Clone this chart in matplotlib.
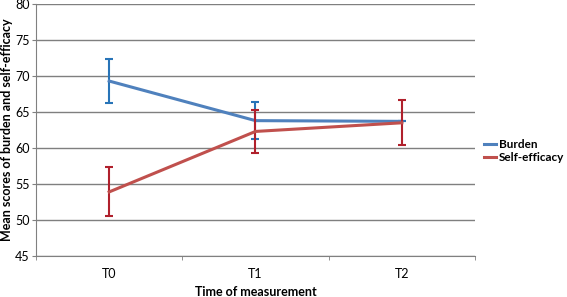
import numpy as np
import matplotlib.pyplot as plt

plt.rcParams['font.family'] = ['Lato', 'DejaVu Sans']

# data
times = ['T0', 'T1', 'T2']
burden = [69.3, 63.8, 63.7]
burden_err = [3.0, 2.6, 0.0]
selfeff = [53.9, 62.3, 63.5]
selfeff_err = [3.4, 3.0, 3.1]

x = np.arange(len(times))

fig = plt.figure(figsize=(5.67, 2.97), dpi=100)
ax = fig.add_axes([36/567, 41/297, 439/567, 252/297])

ax.errorbar(x, burden, yerr=burden_err, color='#4F81BD', lw=2.2,
            ecolor='#2874B8', elinewidth=1.5, capsize=3, capthick=1.5,
            label='Burden', zorder=3)
ax.errorbar(x, selfeff, yerr=selfeff_err, color='#C0504D', lw=2.2,
            ecolor='#B0202C', elinewidth=1.5, capsize=3, capthick=1.5,
            label='Self-efficacy', zorder=4)

ax.set_xlim(-0.5, 2.5)
ax.set_ylim(45, 80)
ax.set_yticks(np.arange(45, 81, 5))
ax.set_xticks(x)
ax.set_xticklabels(times)
ax.set_xticks([-0.5, 0.5, 1.5, 2.5], minor=True)
ax.tick_params(axis='x', which='major', length=0, labelsize=9, pad=9)
ax.tick_params(axis='x', which='minor', length=3, color='#808080')
ax.tick_params(axis='y', length=3, color='#808080', labelsize=9, pad=1.5)

ax.grid(axis='y', color='#7f7f7f', lw=1)
ax.set_axisbelow(True)
for s in ['top', 'right']:
    ax.spines[s].set_visible(False)
ax.spines['left'].set_color('#808080')
ax.spines['bottom'].set_color('#808080')

ax.set_xlabel('Time of measurement', fontsize=9, fontweight='bold', va='center')
ax.xaxis.set_label_coords(0.5, -36/252)
ax.set_ylabel('Mean scores of burden and self-efficacy', fontsize=9,
              fontweight='bold', va='center')
ax.yaxis.set_label_coords(-29/439, 0.5)

h, l = ax.get_legend_handles_labels()
h = [hh[0] for hh in h]
ax.legend(h, l, loc='center left', bbox_to_anchor=(448/439, 0.417), frameon=False,
          handlelength=1.0, handletextpad=0.25, labelspacing=0.2,
          borderpad=0, borderaxespad=0,
          prop={'weight': 'bold', 'size': 8.5})

fig.savefig('out.png', dpi=100)
